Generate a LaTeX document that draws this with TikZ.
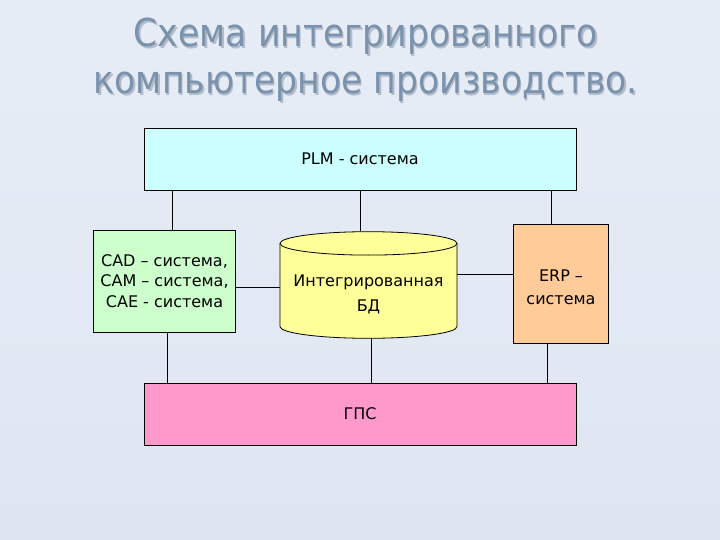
\documentclass[tikz,border=0pt]{standalone}
\usepackage{fontspec}
\setmainfont{DejaVu Sans Condensed}
\newfontfamily\bodyfont{DejaVu Sans}
\usetikzlibrary{positioning}
\definecolor{bgtop}{RGB}{231,237,246}
\definecolor{bgbottom}{RGB}{222,230,242}
\definecolor{titlegray}{RGB}{122,146,171}
\definecolor{shadowgray}{RGB}{178,188,202}
\definecolor{plmcyan}{RGB}{204,255,255}
\definecolor{cadgreen}{RGB}{204,255,204}
\definecolor{bdyellow}{RGB}{255,255,153}
\definecolor{erporange}{RGB}{255,204,153}
\definecolor{gpspink}{RGB}{255,153,204}

\begin{document}
\begin{tikzpicture}[x=1pt,y=-1pt,
    block/.style={draw=black, line width=0.8pt, align=center, inner sep=0pt,
      font=\bodyfont\fontsize{16}{20.5}\selectfont},
    link/.style={draw=black, line width=0.8pt}]
        % Background
        \shade[top color=bgtop, bottom color=bgbottom] (0,0) rectangle (720,540);
        \useasboundingbox (0,0) rectangle (720,540);
        % Title
        \node[shadowgray, align=center, font=\fontsize{38.5}{47}\selectfont]
        (titleshadow) at (367.3,61.3) {Схема интегрированного\\компьютерное производство.};
        \node[titlegray, align=center, font=\fontsize{38.5}{47}\selectfont]
        (title) at (366,60) {Схема интегрированного\\компьютерное производство.};
        % Blocks
        \node[block, fill=plmcyan, minimum width=432, minimum height=62] (plm) at (360,159) {PLM - система};
        \node[block, fill=cadgreen, minimum width=142, minimum height=102] (cad) at (164.5,281)
        {CAD – система,\\CAM – система,\\CAE - система};
        \node[block, fill=erporange, minimum width=95, minimum height=119] (erp) at (561,283.5) {};
        \node[font=\bodyfont\fontsize{16}{23}\selectfont, align=center] (erptext) at (561,287) {ERP –\\система};
        \node[block, fill=gpspink, minimum width=432, minimum height=62] (gps) at (360,414) {ГПС};
        % Database cylinder
        \node[minimum width=177, minimum height=106.3, inner sep=0pt] (bd) at (368.5,284.8) {};
        \filldraw[fill=bdyellow, link] (280,243.4) -- (280,326.6)
        arc[start angle=180, end angle=360, x radius=88.5pt, y radius=11.7pt] -- (457,243.4);
        \filldraw[fill=bdyellow, link] (368.5,243.4) ellipse[x radius=88.5pt, y radius=11.7pt];
        \node[font=\bodyfont\fontsize{16}{25}\selectfont, align=center] (bdtext) at (368.5,294) {Интегрированная\\БД};
        % Connector positions
        \coordinate (xcad) at (172.3,0);
        \coordinate (xbd) at (360,0);
        \coordinate (xerp) at (551.7,0);
        \coordinate (xcadb) at (167.3,0);
        \coordinate (xbdb) at (371.7,0);
        \coordinate (xerpb) at (547.3,0);
        \coordinate (ycad) at (0,287.7);
        \coordinate (yerp) at (0,274.3);
        % Connectors
        \draw[link] (plm.south -| xcad) -- (cad.north -| xcad);
        \draw[link] (plm.south -| xbd) -- (bd.north -| xbd);
        \draw[link] (plm.south -| xerp) -- (erp.north -| xerp);
        \draw[link] (cad.east |- ycad) -- (bd.west |- ycad);
        \draw[link] (bd.east |- yerp) -- (erp.west |- yerp);
        \draw[link] (cad.south -| xcadb) -- (gps.north -| xcadb);
        \draw[link] (bd.south -| xbdb) -- (gps.north -| xbdb);
        \draw[link] (erp.south -| xerpb) -- (gps.north -| xerpb);
    \end{tikzpicture}
\end{document}
